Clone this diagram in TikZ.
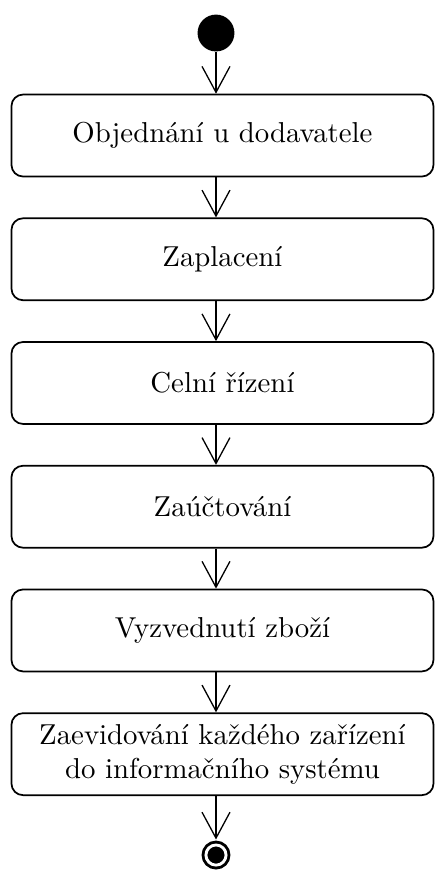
\documentclass[tikz,border=0pt]{standalone}
\usepackage{fontspec}
\usetikzlibrary{arrows.meta}

\tikzset{
    activity/.style={draw, line width=0.6pt, rounded corners=4pt, align=center,
        minimum width=5.15cm, minimum height=1cm, inner sep=2pt},
    initial/.style={circle, fill=black, inner sep=0pt, minimum size=12.8pt},
    final/.style={circle, draw, line width=1pt, fill=black, inner sep=0pt,
        minimum size=7pt, double=white, double distance=1pt},
    flow/.style={line width=0.45pt, -{Straight Barb[length=9pt, width=9.7pt, line width=0.45pt]}}
}

\begin{document}
\begin{tikzpicture}
    % Define the frame
    \useasboundingbox (0,0) rectangle (5.321,-10.703);

    % Start and end of the process
    \node[initial] (start) at (2.636,-0.403) {};
    \node[final] (end) at (2.636,-10.435) {};

    % Activities
    \node[activity] (objednani) at (2.715,-1.654) {Objednání u dodavatele};
    \node[activity] (platba) at (2.715,-3.164) {Zaplacení};
    \node[activity] (clo) at (2.715,-4.674) {Celní řízení};
    \node[activity] (ucto) at (2.715,-6.184) {Zaúčtování};
    \node[activity] (vyzvednuti) at (2.715,-7.694) {Vyzvednutí zboží};
    \node[activity] (evidence) at (2.715,-9.204) {Zaevidování každého zařízení\\do informačního systému};

    % Control flow
    \draw[flow] (start) -- (objednani.north -| start);
    \draw[flow] (objednani.south -| start) -- (platba.north -| start);
    \draw[flow] (platba.south -| start) -- (clo.north -| start);
    \draw[flow] (clo.south -| start) -- (ucto.north -| start);
    \draw[flow] (ucto.south -| start) -- (vyzvednuti.north -| start);
    \draw[flow] (vyzvednuti.south -| start) -- (evidence.north -| start);
    \draw[flow, shorten >=1.4pt] (evidence.south -| end) -- (end);

\end{tikzpicture}
\end{document}
